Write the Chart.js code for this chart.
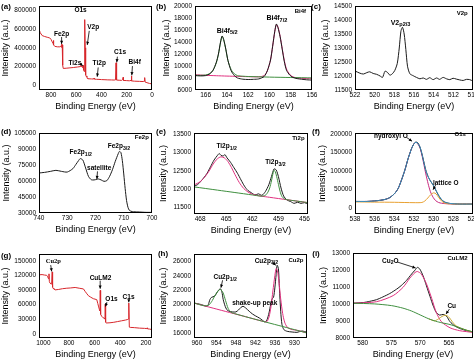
<!DOCTYPE html>
<html><head><meta charset="utf-8">
<script src="https://cdn.jsdelivr.net/npm/chart.js@4.4.1/dist/chart.umd.min.js"></script>
<style>
html,body{margin:0;padding:0;background:#fff;width:474px;height:363px;overflow:hidden;position:relative}
canvas{position:absolute}
.tag{position:absolute;font:bold 8px "Liberation Sans",Arial,sans-serif;color:#000;transform:translate(-50%,-50%);white-space:nowrap}
</style></head><body>
<script>
// ---- (a) survey
const aEnergy = [895,885,870,850,830,810,800,790,784,781,778,770,750,730,722,718,715,713,711,709,706,703,680,650,620,590,566,563,560,552,548,545,542,538,535,533,531,529,527,524,519,516,513,508,480,462,459,456,440,420,400,380,350,320,300,289,285,282,279,260,240,232,229,226,200,180,166,163,160,140,100,70,62,58,55,40,20,0];
const aCounts = [600000,560000,530000,520000,512000,505000,490000,462000,448000,478000,430000,415000,410000,410000,418000,405000,440000,412000,430000,405000,215000,180000,182000,186000,190000,195000,200000,215000,200000,198000,190000,212000,165000,148000,200000,420000,700000,400000,180000,110000,90000,100000,74000,70000,68000,67000,78000,66000,64000,63000,61000,60000,58000,57000,56000,58000,240000,62000,56000,54000,53000,62000,85000,52000,50000,48000,52000,100000,47000,44000,42000,40000,45000,82000,35000,28000,20000,15000];
const aTicksX = [800,600,400,200,0];
const aTicksY = [0,200000,400000,600000,800000];

// ---- (b) Bi4f
const bRawX = [167,166.5,166,165.6,165.3,165,164.8,164.6,164.45,164.3,164.1,163.9,163.6,163.3,163,162.5,162,161.5,161,160.5,160.2,159.9,159.7,159.5,159.35,159.2,159.0,158.8,158.6,158.4,158.1,157.8,157.4,157,156.5,156];
const bRawY = [8400,8350,8400,8700,9300,10600,12000,14000,15000,14400,12800,10900,9200,8400,8000,7800,7750,7780,7850,8250,9200,11000,13300,15800,17000,16400,14900,12800,10700,9300,8500,8100,7900,7800,7700,7650];
const bFit52X = [167,166.5,166,165.6,165.3,165,164.8,164.6,164.45,164.3,164.1,163.9,163.6,163.3,163,162.5,162,160,158,156];
const bFit52Y = [8450,8440,8500,8750,9300,10500,11900,13900,14950,14350,12700,10900,9400,8700,8400,8300,8250,8150,8080,8020];
const bFit72X = [167,166,165,164,163,162,161,160.5,160.2,159.9,159.7,159.5,159.35,159.2,159.0,158.8,158.6,158.4,158.1,157.8,157.4,157,156.5,156];
const bFit72Y = [8550,8450,8380,8320,8270,8220,8200,8400,9200,11000,13300,15700,16900,16500,15000,12900,10900,9500,8600,8200,8000,7950,7900,7880];
const bTicksX = [166,164,162,160,158,156];
const bTicksY = [6000,8000,10000,12000,14000,16000,18000,20000];

// ---- (c) V2p
const cRawX = [522,521.5,521.15,520.8,520.5,520.15,519.8,519.45,519.2,518.95,518.7,518.45,518.2,517.95,517.7,517.5,517.33,517.17,517.0,516.83,516.66,516.42,516.08,515.75,515.4,515.07,514.73,514.4,514.06,513.7,513.4,513.04,512.7,512.36,512.03,511.7,511.35,511.0,510.67,510.34,510];
const cRawY = [12180,12100,12070,12120,12150,12090,12060,12000,11950,12170,12130,12030,12080,12200,12450,13000,13600,13740,13500,12950,12350,12080,12010,11950,11900,11930,11880,11940,11870,11930,11880,11950,11900,11870,11920,11890,11860,11840,11880,11870,11820];
const cTicksX = [522,520,518,516,514,512,510];
const cTicksY = [11500,12000,12500,13000,13500,14000,14500];

// ---- (d) Fe2p
const dRawX = [740,738,736,734,732,730,728,727,726,725.4,724.5,723.5,722.5,721.5,720.5,719.5,719,718,717,716,715,714,713,712,711.5,711,710.5,710,709.5,709,708.5,708,707,705,702,700];
const dRawY = [67500,68100,69000,70000,69000,68400,71600,75300,79100,81000,79700,72200,64400,61200,61000,61600,61900,61000,59700,60300,64400,70600,78400,85300,87800,86600,79100,66600,52800,41600,35300,32500,31300,31000,30600,30600];
const dTicksX = [740,730,720,710,700];
const dTicksY = [30000,45000,60000,75000,90000,105000];

// ---- (e) Ti2p
const eRawX = [468.7,468.3,468,467.6,467.2,466.8,466.4,466.0,465.8,465.6,465.35,465.15,464.9,464.5,464.1,463.7,463.3,462.9,462.5,462.1,461.7,461.3,460.9,460.5,460.1,459.8,459.5,459.25,459.0,458.7,458.4,458.0,457.6,457.2,456.8,456.4,456.0,455.6];
const eRawY = [12080,12120,12190,12300,12430,12610,12790,12920,12970,12920,12900,12940,12850,12730,12580,12430,12250,12080,11960,11900,11840,11870,11830,11930,12120,12340,12550,12520,12340,12030,11810,11700,11660,11610,11640,11610,11630,11590];
const eFit12X = [468.7,468,467.5,467,466.5,466,465.6,465.2,464.8,464.4,464,463.5,463,462.5,462,461.5,461,460,458,456,455.6];
const eFit12Y = [12110,12200,12320,12480,12680,12830,12880,12850,12750,12590,12400,12180,12020,11920,11860,11830,11808,11775,11709,11643,11630];
const eFit32X = [468.7,466,464,462,461,460.5,460.2,460,459.8,459.6,459.5,459.35,459.2,459,458.8,458.6,458.3,458,457,456,455.6];
const eFit32Y = [12060,11971,11906,11840,11808,11830,11920,12030,12220,12450,12510,12470,12340,12130,11930,11800,11730,11709,11676,11643,11630];
const eTicksX = [468,465,462,459,456];
const eTicksY = [11500,12000,12500,13000,13500];

// ---- (f) O1s
const fRawX = [538,536.8,535.8,534.96,534.45,533.94,533.6,533.27,532.93,532.6,532.25,532.0,531.8,531.6,531.4,531.2,531.0,530.8,530.56,530.33,530.06,529.8,529.5,529.2,528.87,528.36,527.35,526];
const fRawY = [17800,17800,19600,23100,28400,40000,53300,75600,102000,133000,160000,173300,177800,175100,164400,146700,124400,102200,84400,72900,62200,48900,33700,22200,16000,12400,10700,10700];
const fHydY = [17800,17800,19600,23100,28400,40000,53300,75600,102000,133000,160000,173300,177000,172000,163000,143000,118000,92000,65000,44000,29000,20000,15000,13000,12000,11200,10800,10700];
const fSumY = [17800,17800,19600,23100,28400,40000,53300,75600,102000,133000,160000,173300,177000,174000,165000,147000,123000,101000,84000,73000,63000,50000,35000,23000,16000,12500,10800,10700];
const fLatX = [538,536,534,532,531.2,530.9,530.6,530.3,530.0,529.75,529.5,529.2,528.9,528.5,527,526];
const fLatY = [16500,16000,15500,14500,15000,19000,27000,36000,41000,38000,29000,19000,13500,11500,10800,10600];
const fTicksX = [538,536,534,532,530,528,526];
const fTicksY = [0,50000,100000,150000,200000];

// ---- (g) survey
const gEnergy = [1034,1010,990,974,966,960,956,953,948,940,935,931,928,924,917,909,880,850,817,790,752,720,687,674,660,648,630,610,583,575,568,562,558,556,553,545,535,525,519,517,514,510,480,450,420,390,360,345,337,333,329,322,290,250,210,192,190,187,170,152];
const gCounts = [121000,121500,120500,120000,117000,113000,123000,107000,104000,102000,104000,127000,96000,93000,92000,90000,91000,92500,93500,94000,95000,93500,92000,87000,82000,78000,75000,72000,70000,62000,55000,49000,47000,89000,40000,36000,33000,32000,30000,61000,24000,22000,22500,23500,25000,26500,28000,29000,30000,63000,13500,13000,12500,11500,11000,10500,12000,10000,9500,8500];
const gTicksX = [1000,800,600,400,200];
const gTicksY = [0,30000,60000,90000,120000,150000];

// ---- (h) Cu2p
const hRawX = [960.9,958.6,957.0,956.5,956.0,955.5,954.6,953.9,953.2,952.7,952.3,951.9,951.3,950.8,950.1,949.1,948.0,947.2,946.4,945.8,945.0,943.9,942.9,941.9,940.8,939.8,939.0,938.4,937.8,937.3,936.8,936.4,936.0,935.6,935.3,934.9,934.6,934.2,933.8,933.2,932.2,930.7,929.2,927.6,926.1];
const hRawY = [20240,20010,19780,20010,20700,21020,21160,21620,22080,22180,21760,20700,19780,19320,19090,19000,19000,19270,19640,19780,19550,19090,18720,18440,18170,17840,17610,17940,18860,20010,20840,21020,22310,24160,25450,24990,22310,19090,17240,16550,16320,16230,16180,16370,16180];
const hFit12X = [960.9,958,956.5,955.5,954.5,953.5,952.8,952,951.2,950.4,949.5,948,945,940,935,930,926.1];
const hFit12Y = [20230,19870,19900,20400,21200,21900,22100,21700,20600,19500,18950,18720,18340,17740,17150,16560,16090];
const hFit32X = [960.9,955,950,945,940,938.5,937.8,937.2,936.6,936,935.6,935.2,934.7,934.2,933.6,933,932.2,931,929,926.1];
const hFit32Y = [20230,19520,18930,18340,17740,17650,18300,19700,21900,24000,25000,24700,23000,20800,18800,17600,16900,16600,16450,16090];
const hTicksX = [960,954,948,942,936,930];
const hTicksY = [16000,18000,20000,22000,24000,26000];

// ---- (i) CuLM2
const iRawX = [581.7,579.9,578.8,577.6,576.5,575.3,574.1,573.3,572.4,571.5,570.9,570.5,570.1,569.5,568.9,568.3,567.7,567.2,566.6,566.0,565.4,564.8,564.0,563.1,561.9,560.8];
const iRawY = [10040,10080,10150,10250,10410,10610,10870,11080,11380,11760,11990,12150,12070,11660,11060,10450,9860,9500,9340,9380,9270,8950,8710,8550,8420,8360];
const iFitX = [581.7,577.6,574.7,572.97,571.8,570.9,570.5,569.8,568.9,568.0,567.2,566.3,564.8,563.1,560.8];
const iFitY = [10040,10130,10490,10980,11520,11850,11910,11760,11180,10330,9500,8950,8590,8420,8320];
const iBackX = [581.7,578,575,573,571.5,570,568.5,567,566,565,564,563,562,560.8];
const iBackY = [10040,10000,9900,9750,9580,9350,9120,8950,8870,8800,8700,8580,8460,8340];
const iCuX = [568.5,567.5,566.8,566.2,565.7,565.3,564.9,564.4,563.8,563,562,560.8];
const iCuY = [9120,9000,9120,9260,9330,9300,9180,8950,8720,8580,8460,8340];
const iTicksX = [580,575,570,565];
const iTicksY = [8000,9000,10000,11000,12000,13000];

const FONT = '"Liberation Sans", Arial, sans-serif';
const SERIF = '"Liberation Serif", "Times New Roman", serif';
const XH = 22.4;

function pts(xs, ys) { return xs.map((x, i) => ({ x: x, y: ys[i] })); }

function line(xs, ys, color, tension) {
  return { data: pts(xs, ys), borderColor: color, borderWidth: 1, pointRadius: 0, tension: tension === undefined ? 0.25 : tension, fill: false };
}

function drawNote(ctx, px, py, segs, size, fam) {
  const big = 'bold ' + size + 'px ' + fam, small = 'bold ' + (size * 0.8) + 'px ' + fam;
  let w = 0;
  segs.forEach(s => { ctx.font = s[0] === '_' ? small : big; w += ctx.measureText(s.replace(/^_/, '')).width; });
  let cx = px - w / 2;
  ctx.textBaseline = 'middle';
  ctx.textAlign = 'left';
  ctx.fillStyle = '#000';
  segs.forEach(s => {
    const sub = s[0] === '_';
    const t = sub ? s.slice(1) : s;
    ctx.font = sub ? small : big;
    ctx.fillText(t, cx, py + (sub ? size * 0.3 : 0));
    cx += ctx.measureText(t).width;
  });
}

function drawArrow(ctx, x1, y1, x2, y2) {
  ctx.strokeStyle = '#000';
  ctx.fillStyle = '#000';
  ctx.lineWidth = 0.8;
  ctx.beginPath(); ctx.moveTo(x1, y1); ctx.lineTo(x2, y2); ctx.stroke();
  const ang = Math.atan2(y2 - y1, x2 - x1), L = 3.5;
  ctx.beginPath();
  ctx.moveTo(x2, y2);
  ctx.lineTo(x2 - L * Math.cos(ang - 0.45), y2 - L * Math.sin(ang - 0.45));
  ctx.lineTo(x2 - L * Math.cos(ang + 0.45), y2 - L * Math.sin(ang + 0.45));
  ctx.closePath(); ctx.fill();
}

const frame = {
  id: 'frame',
  afterDraw(chart) {
    const { ctx, chartArea: a } = chart;
    ctx.save();
    ctx.strokeStyle = '#000';
    ctx.lineWidth = 1;
    ctx.strokeRect(Math.round(a.left) + 0.5, Math.round(a.top) + 0.5, Math.round(a.right - a.left) - 1, Math.round(a.bottom - a.top) - 1);
    ctx.restore();
  }
};

function panel(box, xr, yr, xt, yt, yw, datasets, notes, arrows) {
  const cv = document.createElement('canvas');
  cv.width = box.r - box.l + 90;
  cv.height = box.b - box.t + 60;
  cv.style.left = (box.l - 60) + 'px';
  cv.style.top = (box.t - 20) + 'px';
  document.body.appendChild(cv);
  const tick = { font: { family: FONT, size: 6.5 }, color: '#000', maxRotation: 0, autoSkip: false, callback: v => String(v) };
  new Chart(cv, {
    type: 'line',
    data: { datasets: datasets },
    options: {
      responsive: false, animation: false, devicePixelRatio: 1, events: [],
      layout: { padding: { left: 60 - yw, top: 20, right: 30, bottom: 40 - XH } },
      plugins: { legend: { display: false }, tooltip: { enabled: false } },
      scales: {
        x: {
          type: 'linear', reverse: true, min: xr[0], max: xr[1],
          afterBuildTicks: s => { s.ticks = xt.map(v => ({ value: v })); },
          afterFit: s => { s.height = XH; },
          grid: { display: false, drawTicks: false }, border: { display: false },
          ticks: Object.assign({ padding: 1.5 }, tick),
          title: { display: true, text: 'Binding Energy (eV)', color: '#000', padding: 0, font: { family: FONT, size: 9 } }
        },
        y: {
          type: 'linear', min: yr[0], max: yr[1],
          afterBuildTicks: s => { s.ticks = yt.map(v => ({ value: v })); },
          afterFit: s => { s.width = yw; },
          grid: { display: false, drawTicks: false }, border: { display: false },
          ticks: Object.assign({ padding: 3 }, tick),
          title: { display: true, text: 'Intensity (a.u.)', color: '#000', padding: 0, font: { family: FONT, size: 9 } }
        }
      }
    },
    plugins: [frame, {
      id: 'notes',
      afterDatasetsDraw(chart) {
        const { ctx, scales: { x, y } } = chart;
        ctx.save();
        arrows.forEach(a => drawArrow(ctx, x.getPixelForValue(a[0]), y.getPixelForValue(a[1]), x.getPixelForValue(a[2]), y.getPixelForValue(a[3])));
        notes.forEach(n => drawNote(ctx, x.getPixelForValue(n.x), y.getPixelForValue(n.y), n.t, n.s || 6.5, n.serif ? SERIF : FONT));
        ctx.restore();
      }
    }]
  });
}

const RED = '#d7262b', BLACK = '#1b1b1b', GREEN = '#3f8f3f', PINK = '#e0307f';

panel({ l: 39, r: 152, t: 6, b: 90 }, [0, 895], [-50000, 845000], aTicksX, aTicksY, 38.4,
  [line(aEnergy, aCounts, RED, 0)],
  [{ x: 566, y: 800000, t: ['O1s'] }, { x: 716, y: 548000, t: ['Fe2p'] }, { x: 466, y: 620000, t: ['V2p'] },
   { x: 611, y: 240000, t: ['Ti2s'] }, { x: 418, y: 233000, t: ['Ti2p'] }, { x: 253, y: 350000, t: ['C1s'] }, { x: 137, y: 244000, t: ['Bi4f'] }],
  [[716, 515000, 716, 440000], [497, 580000, 513, 430000], [565, 228000, 548, 207000], [426, 190000, 434, 92000], [274, 305000, 279, 245000], [155, 205000, 160, 106000]]);

panel({ l: 195, r: 312, t: 6, b: 90 }, [156, 167], [6000, 20000], bTicksX, bTicksY, 33.4,
  [line(bRawX, bRawY, BLACK), line(bFit52X, bFit52Y, GREEN), line(bFit72X, bFit72Y, PINK)],
  [{ x: 163.97, y: 15890, t: ['Bi4f', '_5/2'], s: 7 }, { x: 159.3, y: 17940, t: ['Bi4f', '_7/2'], s: 7 }, { x: 157.1, y: 19060, t: ['Bi4f'], s: 6 }],
  []);

panel({ l: 355, r: 473, t: 6, b: 90 }, [510, 522], [11500, 14500], cTicksX, cTicksY, 34.4,
  [line(cRawX, cRawY, BLACK)],
  [{ x: 517.37, y: 13905, t: ['V2', '_p2/3'], s: 7 }, { x: 511.1, y: 14240, t: ['V2p'], s: 6 }],
  []);

panel({ l: 39, r: 152, t: 133, b: 213 }, [700, 740], [30000, 105000], dTicksX, dTicksY, 37.4,
  [line(dRawX, dRawY, BLACK)],
  [{ x: 725.2, y: 86900, t: ['Fe2p', '_1/2'] }, { x: 711.7, y: 92200, t: ['Fe2p', '_3/2'] }, { x: 718.7, y: 72200, t: ['satellite'] }, { x: 703.6, y: 100600, t: ['Fe2p'], s: 6 }],
  [[719.3, 69000, 719.5, 61800]]);

panel({ l: 194, r: 308, t: 133, b: 214 }, [455.6, 468.7], [11320, 13530], eTicksX, eTicksY, 35.9,
  [line(eFit32X, eFit32Y, GREEN), line(eFit12X, eFit12Y, PINK), line(eRawX, eRawY, BLACK)],
  [{ x: 464.95, y: 13160, t: ['Ti2p', '_1/2'] }, { x: 459.35, y: 12730, t: ['Ti2p', '_3/2'] }, { x: 456.7, y: 13380, t: ['Ti2p'], s: 6 }],
  []);

panel({ l: 355, r: 473, t: 133, b: 214 }, [526, 538], [-16000, 202000], fTicksX, fTicksY, 37.4,
  [line(fRawX, fSumY, '#3b8fc0'), line(fLatX, fLatY, '#e8a030'), line(fRawX, fRawY, BLACK), line(fRawX, fHydY, '#c8287e')],
  [{ x: 534.35, y: 193800, t: ['hydroxyl O'] }, { x: 528.77, y: 65800, t: ['lattice O'] }, { x: 527.3, y: 198000, t: ['O1s'], s: 6 }],
  [[532.75, 190000, 532.2, 180000], [529.8, 62000, 530.06, 49500]]);

panel({ l: 39, r: 152, t: 254, b: 338 }, [152, 1034], [-8800, 163800], gTicksX, gTicksY, 38.4,
  [line(gEnergy, gCounts, RED, 0)],
  [{ x: 921.7, y: 148000, t: ['Cu2p'], serif: true }, { x: 554, y: 115000, t: ['CuLM2'] }, { x: 468, y: 69900, t: ['O1s'] }, { x: 335, y: 74700, t: ['C1s'] }],
  [[942.6, 141000, 934.8, 128000], [556.5, 109000, 556.5, 92500], [504, 65000, 515, 56000], [333, 69500, 333, 64500]]);

panel({ l: 194, r: 307, t: 254, b: 338 }, [926.1, 960.9], [15400, 27000], hTicksX, hTicksY, 35.9,
  [line(hFit12X, hFit12Y, GREEN), line(hFit32X, hFit32Y, PINK), line(hRawX, hRawY, BLACK)],
  [{ x: 951.3, y: 23790, t: ['Cu2p', '_1/2'] }, { x: 938.6, y: 26050, t: ['Cu2p', '_3/2'] }, { x: 929.5, y: 26140, t: ['Cu2p'], s: 6 }, { x: 942.2, y: 20240, t: ['shake-up peak'] }],
  [[952.1, 23370, 952.6, 22350], [936.9, 25860, 935.7, 25450]]);

panel({ l: 353, r: 473, t: 253, b: 338 }, [560.8, 581.7], [7990, 13000], iTicksX, iTicksY, 34.9,
  [line(iBackX, iBackY, GREEN), line(iCuX, iCuY, '#c8a830'), line(iFitX, iFitY, PINK), line(iRawX, iRawY, BLACK)],
  [{ x: 575.2, y: 12530, t: ['Cu', '_2', 'O'] }, { x: 564.5, y: 9880, t: ['Cu'] }, { x: 563.5, y: 12700, t: ['CuLM2'], s: 6 }],
  [[574, 12470, 570.8, 12120], [564.9, 9700, 565.5, 9400]]);

// panel letters
[['(a)', 6, 6], ['(b)', 161, 6], ['(c)', 316, 6], ['(d)', 6, 131], ['(e)', 161, 131], ['(f)', 316, 131], ['(g)', 6, 255], ['(h)', 163, 253], ['(i)', 316, 253]].forEach(p => {
  const d = document.createElement('div');
  d.className = 'tag';
  d.textContent = p[0];
  d.style.left = p[1] + 'px';
  d.style.top = p[2] + 'px';
  document.body.appendChild(d);
});
</script>
</body></html>
